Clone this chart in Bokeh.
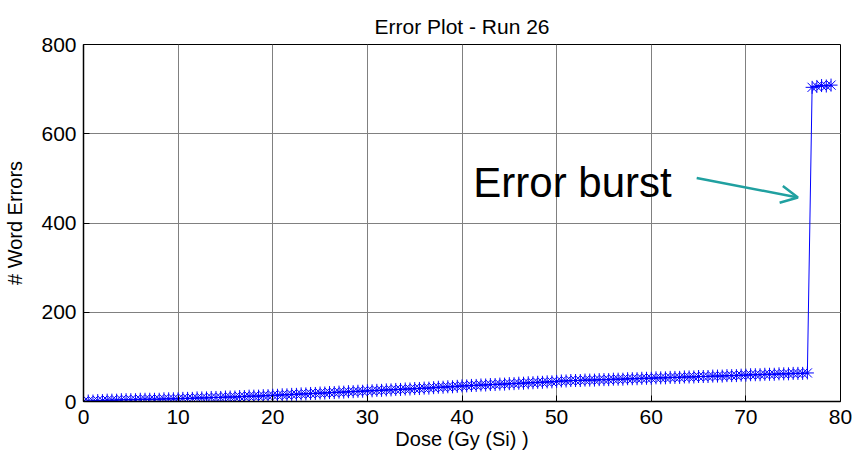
from bokeh.plotting import figure
from bokeh.models import Label, Arrow, OpenHead, FixedTicker
from bokeh.embed import file_html
from bokeh.resources import INLINE

# ---- data ----
dose = [
    0.0, 0.5, 1.0, 1.5, 2.0, 2.5, 3.0, 3.5, 4.0, 4.5, 5.0, 5.5, 6.0, 6.5, 7.0, 7.5, 8.0, 8.5, 9.0, 9.5,
    10.0, 10.5, 11.0, 11.5, 12.0, 12.5, 13.0, 13.5, 14.0, 14.5, 15.0, 15.5, 16.0, 16.5, 17.0, 17.5, 18.0, 18.5, 19.0, 19.5,
    20.0, 20.5, 21.0, 21.5, 22.0, 22.5, 23.0, 23.5, 24.0, 24.5, 25.0, 25.5, 26.0, 26.5, 27.0, 27.5, 28.0, 28.5, 29.0, 29.5,
    30.0, 30.5, 31.0, 31.5, 32.0, 32.5, 33.0, 33.5, 34.0, 34.5, 35.0, 35.5, 36.0, 36.5, 37.0, 37.5, 38.0, 38.5, 39.0, 39.5,
    40.0, 40.5, 41.0, 41.5, 42.0, 42.5, 43.0, 43.5, 44.0, 44.5, 45.0, 45.5, 46.0, 46.5, 47.0, 47.5, 48.0, 48.5, 49.0, 49.5,
    50.0, 50.5, 51.0, 51.5, 52.0, 52.5, 53.0, 53.5, 54.0, 54.5, 55.0, 55.5, 56.0, 56.5, 57.0, 57.5, 58.0, 58.5, 59.0, 59.5,
    60.0, 60.5, 61.0, 61.5, 62.0, 62.5, 63.0, 63.5, 64.0, 64.5, 65.0, 65.5, 66.0, 66.5, 67.0, 67.5, 68.0, 68.5, 69.0, 69.5,
    70.0, 70.5, 71.0, 71.5, 72.0, 72.5, 73.0, 73.5, 74.0, 74.5, 75.0, 75.5, 76.0, 76.5,
    77.0, 77.5, 78.0, 78.5, 79.0,
]
word_errors = [
    0, 1, 1, 2, 2, 3, 3, 3, 4, 4, 4, 4, 5, 5, 5, 5, 5, 6, 6, 6,
    6, 7, 7, 7, 8, 8, 8, 9, 9, 9, 10, 10, 10, 11, 11, 12, 12, 12, 13, 13,
    14, 14, 15, 15, 16, 16, 17, 17, 18, 18, 19, 19, 20, 20, 21, 21, 22, 22, 23, 23,
    24, 24, 25, 25, 26, 26, 27, 27, 28, 28, 29, 29, 30, 30, 31, 32, 32, 33, 33, 34,
    35, 35, 36, 36, 37, 37, 38, 38, 39, 39, 40, 40, 41, 41, 42, 42, 43, 43, 44, 44,
    45, 46, 46, 47, 47, 47, 48, 48, 48, 49, 49, 49, 50, 50, 50, 51, 51, 51, 52, 52,
    52, 53, 53, 53, 54, 54, 54, 55, 55, 55, 56, 56, 56, 57, 57, 57, 58, 58, 58, 59,
    59, 60, 60, 60, 61, 61, 61, 62, 62, 62, 63, 63, 63, 64,
    704, 706, 708, 707, 709,
]
x_ticks = [0, 10, 20, 30, 40, 50, 60, 70, 80]
y_ticks = [0, 200, 400, 600, 800]

FONT = "Liberation Sans"

p = figure(
    width=854, height=462,
    x_range=(0, 80), y_range=(0, 800),
    output_backend="svg", toolbar_location=None,
    title="Error Plot - Run 26",
    min_border_left=83, min_border_right=14,
    min_border_top=44, min_border_bottom=61,
)
p.background_fill_color = "white"
p.border_fill_color = "white"
p.outline_line_color = "black"
p.outline_line_width = 1

p.title.align = "center"
p.title.text_font = FONT
p.title.text_font_style = "normal"
p.title.text_font_size = "21px"
p.title.text_color = "black"
p.title.standoff = 13

p.xaxis.ticker = FixedTicker(ticks=x_ticks)
p.yaxis.ticker = FixedTicker(ticks=y_ticks)
for ax in (p.xaxis, p.yaxis):
    ax.major_tick_in = 6
    ax.major_tick_out = 0
    ax.minor_tick_line_color = None
    ax.axis_line_color = "black"
    ax.axis_line_width = 1.5
    ax.major_tick_line_color = "black"
    ax.major_label_text_font = FONT
    ax.major_label_text_font_size = "21px"
    ax.major_label_text_color = "black"
    ax.axis_label_text_font = FONT
    ax.axis_label_text_font_size = "20px"
    ax.axis_label_text_font_style = "normal"
    ax.axis_label_text_color = "black"

p.xaxis.axis_label = "Dose (Gy (Si) )"
p.yaxis.axis_label = "# Word Errors"
p.xaxis.major_label_standoff = 8
p.yaxis.major_label_standoff = 7
p.xaxis.axis_label_standoff = 1
p.yaxis.axis_label_standoff = 12

p.grid.grid_line_color = "#808080"
p.grid.grid_line_width = 1

p.line(dose, word_errors, line_color="#0000ff", line_width=1)
p.scatter(dose, word_errors, marker="asterisk", size=13,
          line_color="#0000ff", line_width=1)

p.add_layout(Label(x=41.2, y=490, text="Error burst", text_font=FONT,
                   text_font_size="42px", text_baseline="middle",
                   text_color="black"))
teal = "#20a0a0"
p.add_layout(Arrow(end=OpenHead(size=17, line_color=teal, line_width=2.5),
                   x_start=64.8, y_start=501, x_end=75.5, y_end=457,
                   line_color=teal, line_width=2.5))

open("out.html", "w").write(file_html(p, INLINE))
